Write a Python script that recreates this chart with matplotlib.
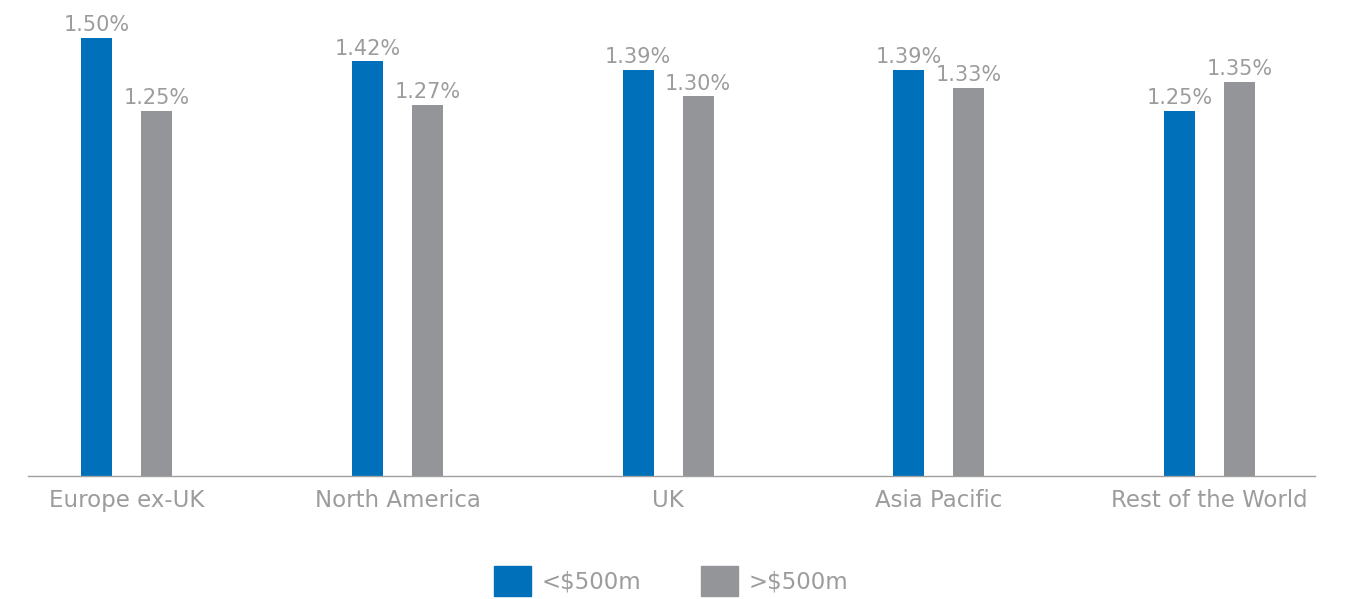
import numpy as np
import matplotlib.pyplot as plt
from matplotlib.patches import Patch

plt.rcParams['font.family'] = ['DejaVu Sans']

regions = ["Europe ex-UK", "North America", "UK", "Asia Pacific", "Rest of the World"]
small_funds = [1.50, 1.42, 1.39, 1.39, 1.25]
large_funds = [1.25, 1.27, 1.30, 1.33, 1.35]
series_names = ["<$500m", ">$500m"]

blue = '#0070ba'
grey = '#939598'
text_grey = '#9c9c9c'

fig = plt.figure(figsize=(13.48, 5.99), dpi=100)
ax = fig.add_axes([0.0208, 0.2053, 0.9547, 0.78])

x = np.arange(len(regions))
width = 0.114
offset = 0.111

b1 = ax.bar(x - offset, small_funds, width, color=blue)
b2 = ax.bar(x + offset, large_funds, width, color=grey)

# value labels above each bar
for bars, vals in ((b1, small_funds), (b2, large_funds)):
    for rect, v in zip(bars, vals):
        ax.annotate(f"{v:.2f}%", (rect.get_x() + rect.get_width() / 2, v),
                    xytext=(0, 2), textcoords='offset points',
                    ha='center', va='bottom', fontsize=15, color=text_grey)

ax.set_xlim(-0.365, 4.39)
ax.set_ylim(0, 1.6)
ax.set_xticks(x)
ax.set_xticklabels(regions, fontsize=16.5, color=text_grey)
ax.tick_params(axis='x', length=0, pad=9)
ax.set_yticks([])
for side in ('top', 'right', 'left'):
    ax.spines[side].set_visible(False)
ax.spines['bottom'].set_color('#a0a0a0')
ax.spines['bottom'].set_linewidth(1.0)

handles = [Patch(color=blue), Patch(color=grey)]
leg = fig.legend(handles, series_names, loc='center', bbox_to_anchor=(0.498, 0.03),
                 ncol=2, frameon=False, fontsize=16.5, handlelength=1.62,
                 handleheight=1.62, handletextpad=0.48, columnspacing=2.58)
for t in leg.get_texts():
    t.set_color(text_grey)

fig.savefig('out.png', dpi=100)
